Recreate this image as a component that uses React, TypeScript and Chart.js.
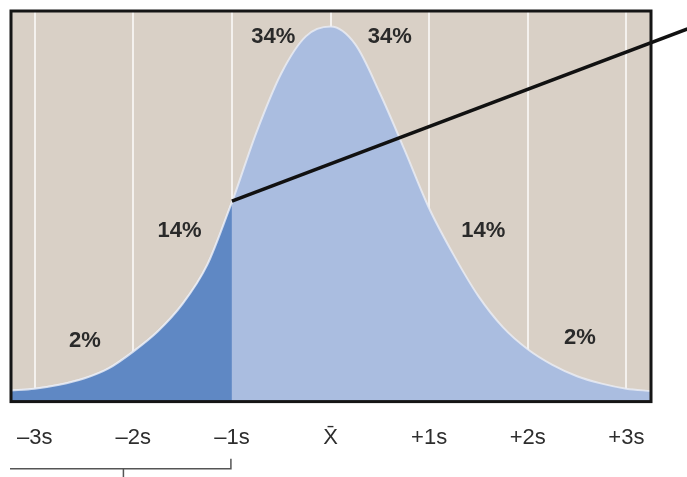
import React, { useEffect, useRef } from "react";
import { Chart, registerables } from "chart.js";

Chart.register(...registerables);

// curve (in standard-deviation units) and its height (0..100 of plot height)
const sPoints = [-3.25, -3, -2.75, -2.5, -2.25, -2, -1.75, -1.5, -1.25, -1, -0.75, -0.5, -0.25, 0, 0.25, 0.5, 0.75, 1, 1.25, 1.5, 1.75, 2, 2.25, 2.5, 2.75, 3, 3.25];
const heights = [2.8, 3.3, 4.3, 5.9, 8.5, 12.8, 18, 25, 35, 51, 69, 84, 93.5, 96, 91.5, 79, 64.5, 49.5, 37.5, 27, 19, 13.4, 9.4, 6.5, 4.6, 3.3, 2.7];

const darkLimit = -1;
const sMin = -3.24;
const sMax = 3.25;

const tickValues = [-3, -2, -1, 0, 1, 2, 3];
const tickLabels = ["\u20133s", "\u20132s", "\u20131s", "X\u0304", "+1s", "+2s", "+3s"];

const pctTexts = ["34%", "34%", "14%", "14%", "2%", "2%"];
const pctS = [-0.58, 0.6, -1.53, 1.55, -2.49, 2.53];
const pctV = [93.3, 93.3, 43.8, 43.8, 15.6, 16.4];

const pointerS = [-1, 3.62];
const pointerV = [51.3, 95.4];

const bracketS = [-3.25, -3.25, -1.01, -1.01];
const bracketV = [-14.6, -17.2, -17.2, -14.6];
const bracketStemS = [-2.1, -2.1];
const bracketStemV = [-17.2, -19.8];

const FONT = "'Liberation Sans Narrow', 'Arial Narrow', 'Liberation Sans', Arial, sans-serif";

const framePlugin = {
  id: "frame",
  beforeDraw(chart: any) {
    const { ctx, chartArea: a } = chart;
    ctx.save();
    ctx.fillStyle = "#d9d0c6";
    ctx.fillRect(a.left, a.top, a.right - a.left, a.bottom - a.top);
    ctx.restore();
  },
  afterDraw(chart: any) {
    const { ctx, chartArea: a, scales } = chart;
    ctx.save();
    ctx.strokeStyle = "#151515";
    ctx.lineWidth = 3;
    ctx.strokeRect(a.left, a.top, a.right - a.left, a.bottom - a.top);
    ctx.fillStyle = "#2a2a2a";
    ctx.font = "bold 22px " + FONT;
    ctx.textAlign = "center";
    ctx.textBaseline = "middle";
    pctTexts.forEach((t, i) => {
      ctx.fillText(t, scales.x.getPixelForValue(pctS[i]), scales.y.getPixelForValue(pctV[i]));
    });
    ctx.restore();
  },
};

export default function App() {
  const ref = useRef<HTMLCanvasElement>(null);
  useEffect(() => {
    document.body.style.margin = "0";
    const curve = sPoints.map((s, i) => ({ x: s, y: heights[i] }));
    const dark = curve.filter((p) => p.x <= darkLimit);
    const chart = new Chart(ref.current!, {
      type: "line",
      data: {
        datasets: [
          {
            data: dark,
            fill: "origin",
            backgroundColor: "#5f88c4",
            borderColor: "rgba(235,238,245,0.8)",
            borderWidth: 2,
            pointRadius: 0,
            cubicInterpolationMode: "monotone",
            order: 1,
          },
          {
            data: curve,
            fill: "origin",
            backgroundColor: "#aabde0",
            borderColor: "rgba(235,238,245,0.8)",
            borderWidth: 2,
            pointRadius: 0,
            cubicInterpolationMode: "monotone",
            order: 2,
          },
          {
            data: pointerS.map((s, i) => ({ x: s, y: pointerV[i] })),
            fill: false,
            borderColor: "#111111",
            borderWidth: 3.5,
            pointRadius: 0,
            clip: false,
            order: 0,
          },
          {
            data: bracketS.map((s, i) => ({ x: s, y: bracketV[i] })),
            fill: false,
            borderColor: "#555555",
            borderWidth: 1.5,
            pointRadius: 0,
            clip: false,
            order: 0,
          },
          {
            data: bracketStemS.map((s, i) => ({ x: s, y: bracketStemV[i] })),
            fill: false,
            borderColor: "#555555",
            borderWidth: 1.5,
            pointRadius: 0,
            clip: false,
            order: 0,
          },
        ] as any,
      },
      options: {
        animation: false,
        responsive: false,
        layout: { padding: { left: 11, top: 11, right: 36, bottom: 16 } },
        plugins: { legend: { display: false }, tooltip: { enabled: false } },
        scales: {
          x: {
            type: "linear",
            min: sMin,
            max: sMax,
            z: 1,
            border: { display: false },
            afterBuildTicks: (scale: any) => {
              scale.ticks = [sMin, ...tickValues, sMax].map((v) => ({ value: v }));
            },
            grid: {
              color: (c: any) =>
                tickValues.indexOf(c.tick ? c.tick.value : NaN) >= 0 ? "rgba(255,255,255,0.7)" : "rgba(0,0,0,0)",
              lineWidth: 2,
              drawTicks: true,
              tickLength: 13,
              tickColor: "rgba(0,0,0,0)",
            },
            ticks: {
              padding: 10,
              color: "#2e2e2e",
              font: { family: FONT, size: 22 },
              callback: (v: any) => {
                const i = tickValues.indexOf(Number(v));
                return i >= 0 ? tickLabels[i] : "";
              },
            },
          },
          y: {
            type: "linear",
            min: 0,
            max: 100,
            display: false,
          },
        },
      } as any,
      plugins: [framePlugin],
    });
    return () => chart.destroy();
  }, []);
  return <canvas ref={ref} width={687} height={477} style={{ display: "block" }} />;
}
